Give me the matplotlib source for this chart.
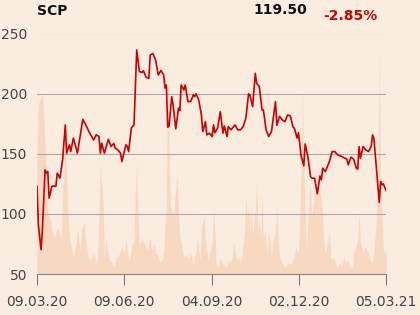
import matplotlib
matplotlib.use("Agg")
import matplotlib.pyplot as plt

# ---- data (trading-day index, price) ----
price_day = [0, 1, 3, 4, 6, 7, 8, 9, 11, 12, 14, 15, 17, 19, 21, 22, 24, 25, 27, 30,
             32, 34, 37, 39, 42, 44, 46, 47, 48, 50, 53, 55, 57, 58, 60, 62, 63, 66, 67, 68,
             70, 72, 74, 76, 78, 79, 81, 83, 84, 86, 88, 90, 92, 94, 95, 96, 97, 98, 100, 101,
             103, 105, 106, 107, 109, 110, 111, 112, 114, 116, 117, 118, 120, 122, 123, 125, 126, 128, 130, 131,
             132, 134, 136, 138, 139, 141, 142, 144, 147, 149, 151, 153, 155, 157, 158, 160, 162, 163, 165, 167,
             168, 170, 172, 174, 177, 178, 180, 182, 184, 186, 188, 190, 191, 193, 194, 196, 198, 199, 201, 203,
             204, 206, 208, 210, 211, 212, 214, 216, 217, 219, 221, 223, 225, 227, 230, 231, 233, 235, 237, 238,
             239, 240, 242, 244, 246, 248, 249, 250, 252, 254, 255, 256, 257, 259]
price_val = [122.8, 91.0, 70.2, 86.8, 136.6, 133.9, 135.2, 113.1, 122.8, 123.3, 122.8, 133.9, 129.7, 145.0, 174.0, 150.5, 157.4, 151.8, 163.0, 150.5,
             164.3, 178.6, 172.1, 167.4, 161.5, 165.7, 164.3, 150.5, 158.8, 150.5, 162.0, 156.0, 158.6, 154.7, 153.2, 150.5, 143.5, 157.4, 156.0, 151.8,
             171.5, 174.0, 236.3, 218.3, 217.6, 219.1, 213.5, 212.8, 232.1, 233.4, 228.0, 215.5, 219.3, 215.5, 204.7, 207.2, 172.1, 173.2, 197.5, 190.6,
             170.7, 187.9, 185.9, 207.2, 203.1, 207.2, 200.3, 193.4, 193.4, 198.9, 197.5, 199.8, 194.8, 182.3, 168.4, 176.7, 165.7, 167.1, 164.3, 174.0,
             167.4, 171.3, 185.0, 167.1, 173.2, 164.3, 172.6, 169.9, 174.0, 169.9, 169.9, 172.6, 179.6, 199.8, 198.9, 189.2, 216.9, 208.6, 205.8, 186.5,
             186.5, 169.9, 164.3, 168.4, 193.4, 173.6, 181.1, 178.2, 176.7, 182.3, 181.5, 172.1, 171.3, 163.0, 167.6, 148.3, 140.0, 158.2, 147.7, 131.1,
             129.7, 129.6, 116.7, 131.6, 128.3, 138.0, 135.2, 140.8, 143.5, 151.8, 151.8, 149.1, 148.3, 147.2, 145.5, 140.8, 147.2, 145.5, 138.0, 137.2,
             156.0, 146.3, 156.0, 153.2, 151.8, 156.0, 165.7, 163.0, 136.6, 109.5, 126.9, 124.2, 125.0, 119.5]

# ---- volume (trading-day index, relative volume) ----
vol_day = [0, 1, 4, 5, 7, 8, 10, 11, 13, 15,
           16, 18, 19, 21, 22, 23, 24, 26, 27, 29,
           30, 32, 33, 35, 36, 38, 39, 41, 42, 44,
           45, 46, 47, 49, 50, 51, 53, 54, 56, 57,
           59, 60, 62, 63, 65, 66, 68, 69, 71, 72,
           73, 74, 75, 76, 78, 79, 81, 82, 84, 85,
           87, 88, 90, 91, 93, 94, 95, 96, 97, 98,
           99, 100, 101, 104, 105, 106, 108, 109, 111, 112,
           114, 115, 116, 118, 119, 121, 122, 124, 125, 127,
           128, 130, 131, 132, 133, 134, 136, 137, 139, 140,
           142, 143, 145, 146, 148, 149, 151, 152, 154, 155,
           156, 157, 158, 159, 160, 162, 163, 164, 165, 166,
           167, 168, 169, 171, 172, 174, 175, 177, 178, 179,
           180, 182, 183, 185, 186, 188, 189, 191, 192, 194,
           195, 196, 197, 198, 199, 200, 201, 202, 203, 204,
           205, 206, 207, 208, 210, 211, 212, 213, 214, 216,
           217, 218, 219, 220, 222, 223, 225, 226, 228, 229,
           231, 232, 234, 235, 237, 238, 239, 240, 242, 243,
           244, 246, 247, 249, 250, 252, 253, 254, 255, 256,
           257, 258, 259]
vol_val = [124, 170, 180, 160, 100, 60, 55, 44, 36, 46,
           44, 34, 80, 134, 100, 60, 37, 24, 17, 31,
           46, 24, 44, 52, 34, 17, 14, 16, 22, 9,
           17, 67, 111, 74, 14, 36, 19, 14, 11, 7,
           19, 16, 24, 27, 21, 34, 14, 16, 32, 31,
           84, 111, 57, 29, 36, 32, 27, 24, 36, 24,
           29, 21, 19, 12, 14, 24, 47, 71, 202, 130,
           67, 64, 57, 99, 57, 37, 24, 17, 19, 14,
           21, 14, 11, 24, 36, 14, 44, 59, 34, 14,
           21, 31, 67, 44, 11, 7, 17, 12, 9, 7,
           14, 11, 17, 31, 14, 17, 12, 17, 41, 77,
           57, 67, 41, 71, 37, 64, 91, 41, 57, 31,
           81, 31, 44, 21, 44, 21, 31, 44, 69, 37,
           17, 11, 9, 7, 12, 9, 11, 17, 26, 21,
           57, 104, 181, 107, 57, 27, 51, 84, 87, 57,
           71, 81, 84, 87, 81, 74, 57, 27, 21, 34,
           41, 17, 14, 17, 9, 7, 11, 7, 17, 11,
           14, 7, 6, 21, 29, 37, 61, 31, 21, 24,
           27, 21, 14, 11, 24, 57, 91, 224, 97, 57,
           24, 21, 26]

tick_labels = ["09.03.20", "09.06.20", "04.09.20", "02.12.20", "05.03.21"]
y_ticks = [50, 100, 150, 200, 250]
title = "SCP"
last_price = "119.50"
change = "-2.85%"

bg = "#fbece0"
fig = plt.figure(figsize=(4.2, 3.15), dpi=100, facecolor=bg)
ax = fig.add_axes([37/420, 1-274/315, (386-37)/420, (274-33.5)/315])
ax.set_facecolor(bg)

axv = ax.twinx()
axv.fill_between(vol_day, vol_val, 0, color="#f7d9c2", lw=0, zorder=1)
axv.set_ylim(0, 240.5)
axv.set_yticks([])
for s in axv.spines.values():
    s.set_visible(False)

ax.set_zorder(axv.get_zorder() + 1)
ax.patch.set_visible(False)
axv.patch.set_visible(True)
axv.patch.set_facecolor(bg)

ax.plot(price_day, price_val, color="#cc0000", lw=1.2, zorder=3)
ax.set_ylim(50, 250)
ax.set_xlim(0, 259)
ax.set_yticks(y_ticks)
ax.grid(axis="y", color="#aaaaaa", lw=0.8)
ax.set_axisbelow(True)
xt = [i * 259 / 4 for i in range(5)]
ax.set_xticks(xt)
ax.set_xticklabels(tick_labels)
ax.tick_params(axis="x", length=8, color="#777777", labelsize=10, labelcolor="#444444", pad=7)
ax.tick_params(axis="y", length=0, labelsize=10, labelcolor="#444444", pad=7)
for k in ["top", "right", "left"]:
    ax.spines[k].set_visible(False)
ax.spines["bottom"].set_color("#888888")

fig.text(37/420, 1-11/315, title, fontsize=10, fontweight="bold", ha="left", va="center", color="#111111")
fig.text(307/420, 1-10/315, last_price, fontsize=10, fontweight="bold", ha="right", va="center", color="#111111")
fig.text(378/420, 1-16/315, change, fontsize=10, fontweight="bold", ha="right", va="center", color="#cc0000")

fig.savefig("out.png", dpi=100, facecolor=bg)
